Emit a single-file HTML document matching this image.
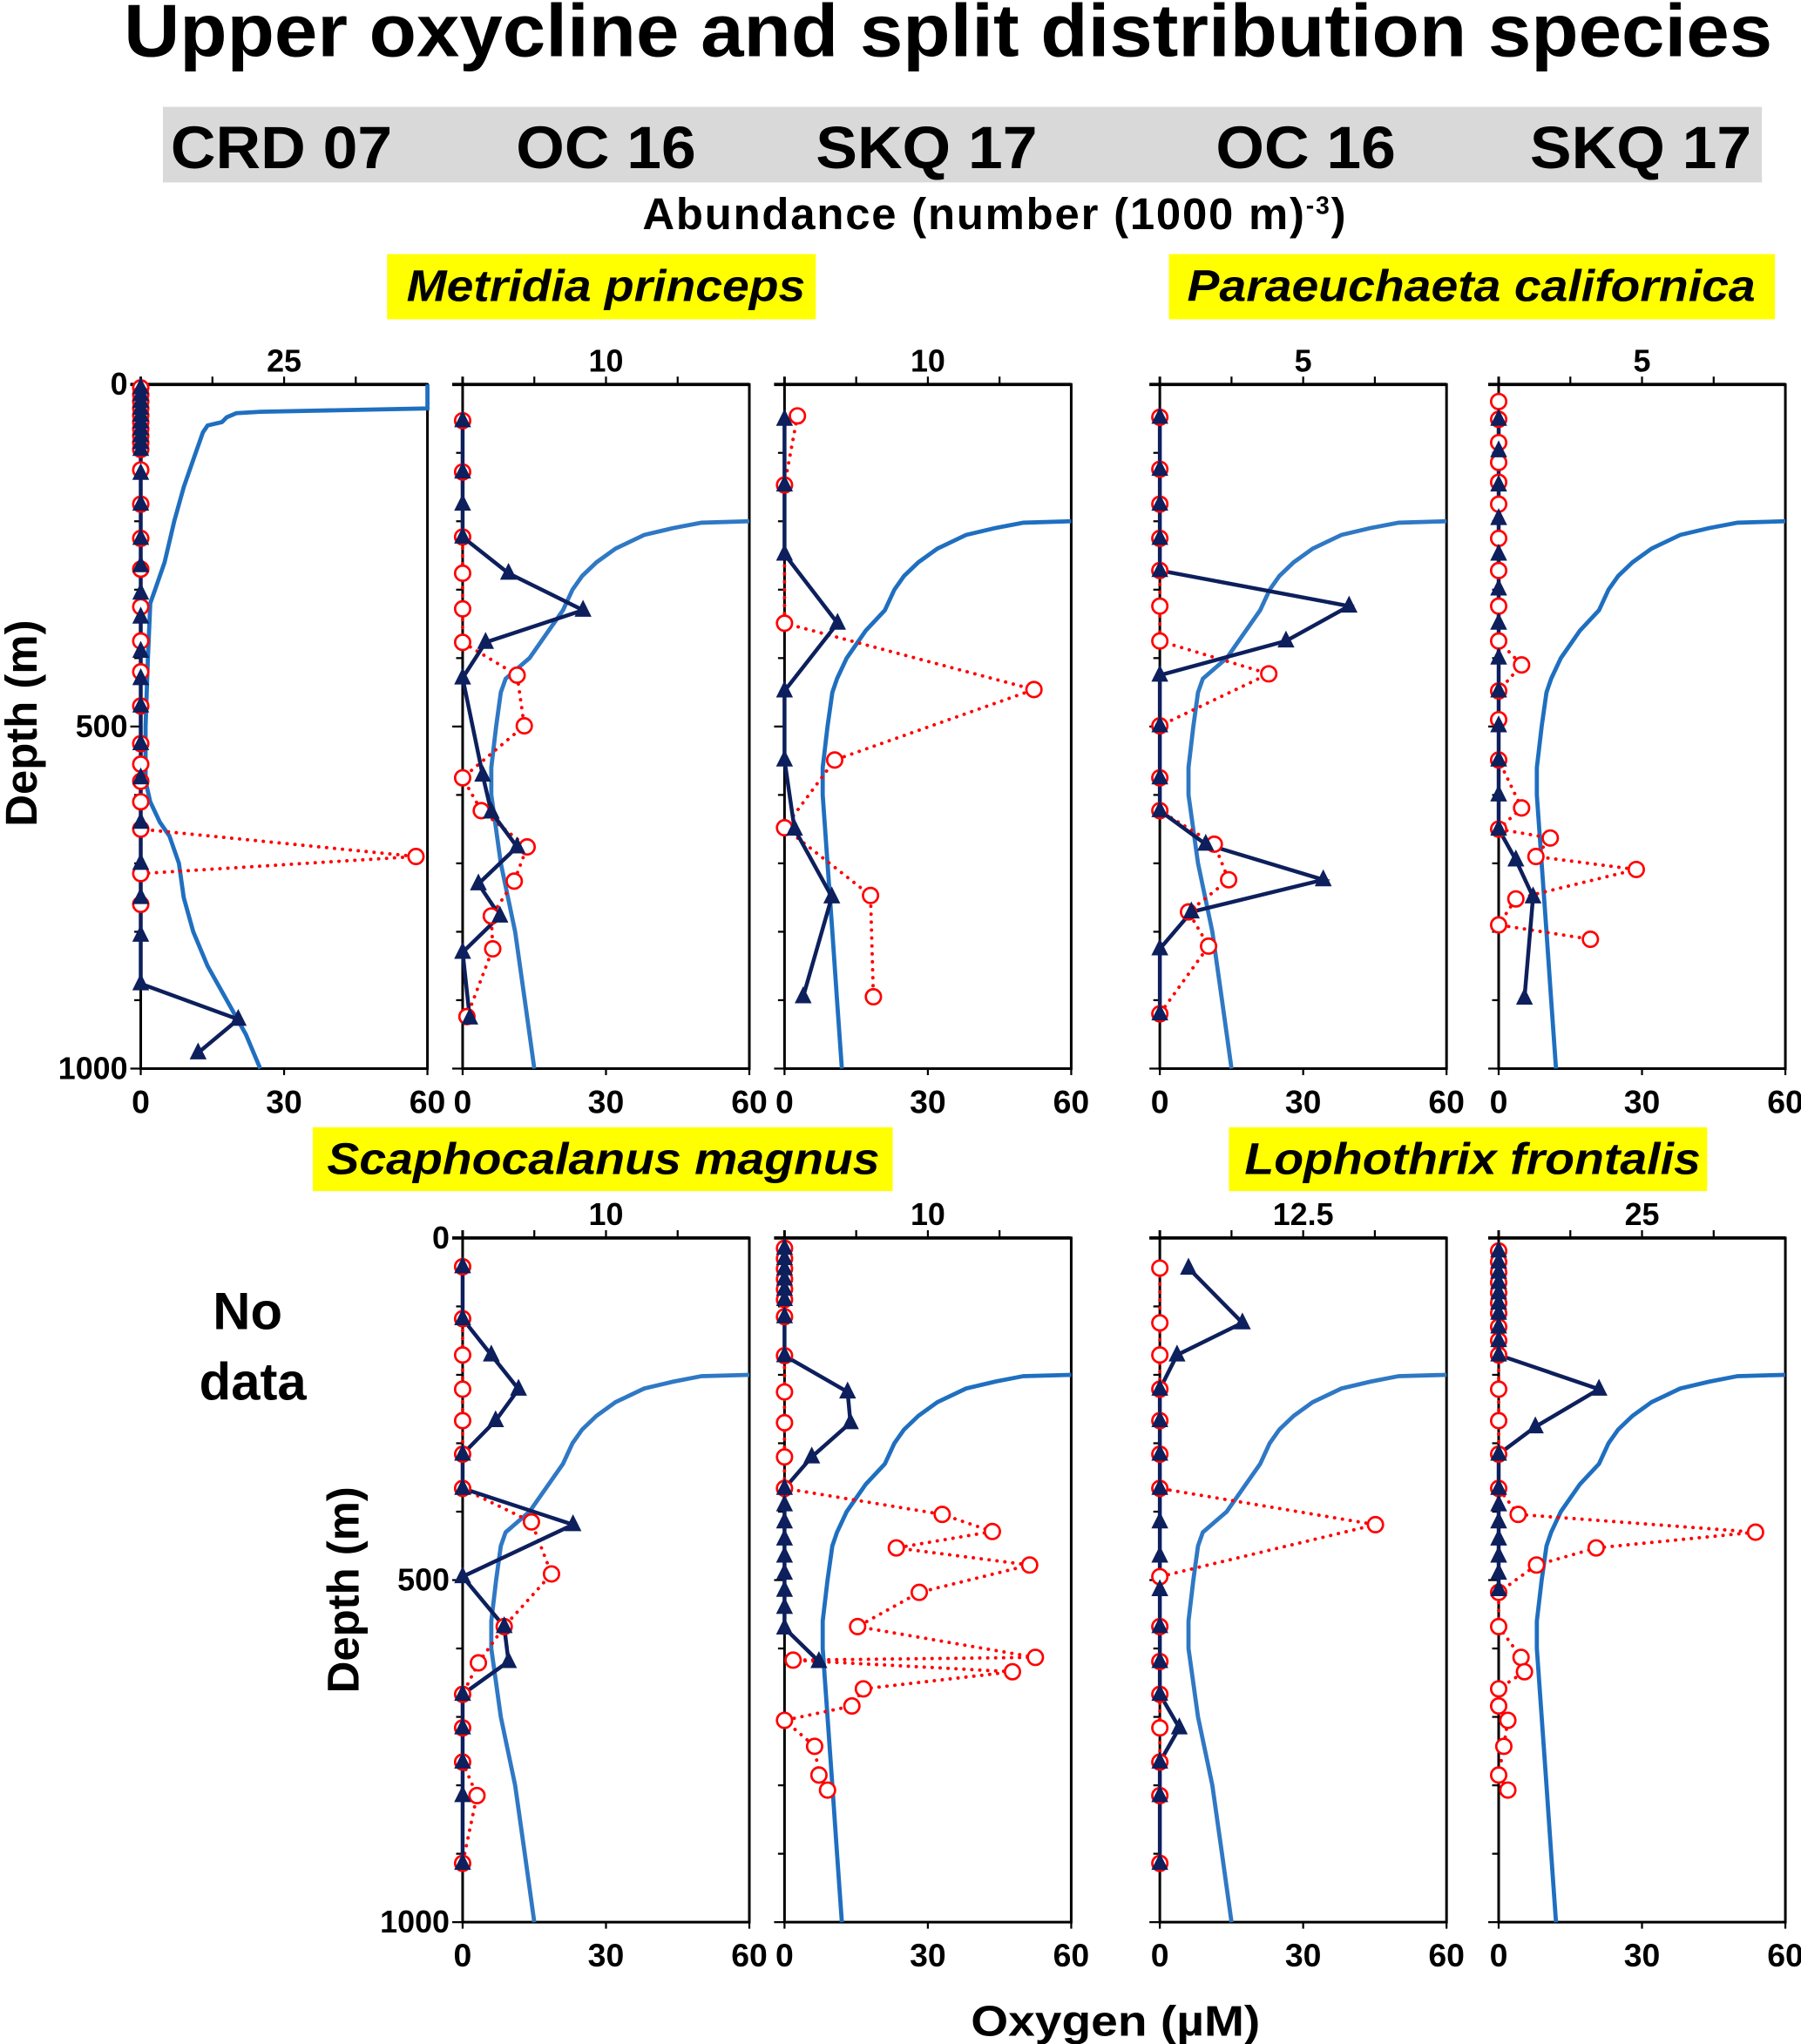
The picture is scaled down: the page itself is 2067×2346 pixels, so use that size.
<!DOCTYPE html>
<html><head><meta charset="utf-8"><style>
html,body{margin:0;padding:0;background:#fff}
svg{display:block}
text{font-family:"Liberation Sans",Arial,sans-serif;font-weight:bold;fill:#000}
</style></head><body>
<svg id="chart" width="2067" height="2346" viewBox="0 0 1382 1568.5" preserveAspectRatio="none" xmlns="http://www.w3.org/2000/svg">
<text x="95" y="43" font-size="57" textLength="1265" lengthAdjust="spacingAndGlyphs">Upper oxycline and split distribution species</text>
<rect x="125" y="82" width="1227" height="58" fill="#d9d9d9"/>
<text x="131" y="129" font-size="46" textLength="170" lengthAdjust="spacingAndGlyphs">CRD 07</text>
<text x="396" y="129" font-size="46" textLength="138" lengthAdjust="spacingAndGlyphs">OC 16</text>
<text x="626" y="129" font-size="46" textLength="170" lengthAdjust="spacingAndGlyphs">SKQ 17</text>
<text x="933" y="129" font-size="46" textLength="138" lengthAdjust="spacingAndGlyphs">OC 16</text>
<text x="1174" y="129" font-size="46" textLength="170" lengthAdjust="spacingAndGlyphs">SKQ 17</text>
<text x="493" y="176" font-size="34" letter-spacing="1.2">Abundance (number (1000 m)<tspan font-size="19" dy="-12">-3</tspan><tspan dy="12">)</tspan></text>
<rect x="297" y="195" width="329" height="50" fill="#ffff00"/>
<text x="312" y="231" font-size="34" font-style="italic" textLength="306" lengthAdjust="spacingAndGlyphs">Metridia princeps</text>
<rect x="897" y="195" width="465" height="50" fill="#ffff00"/>
<text x="911" y="231" font-size="34" font-style="italic" textLength="436" lengthAdjust="spacingAndGlyphs">Paraeuchaeta californica</text>
<rect x="240" y="865" width="445" height="49" fill="#ffff00"/>
<text x="251" y="901" font-size="34" font-style="italic" textLength="424" lengthAdjust="spacingAndGlyphs">Scaphocalanus magnus</text>
<rect x="943" y="865" width="367" height="49" fill="#ffff00"/>
<text x="955" y="901" font-size="34" font-style="italic" textLength="350" lengthAdjust="spacingAndGlyphs">Lophothrix frontalis</text>
<text transform="translate(28,555) rotate(-90)" font-size="34" text-anchor="middle">Depth (m)</text>
<text transform="translate(275,1220) rotate(-90)" font-size="34" text-anchor="middle">Depth (m)</text>
<text x="190" y="1020" font-size="40" text-anchor="middle">No</text>
<text x="194" y="1074" font-size="40" text-anchor="middle">data</text>
<text x="745" y="1562" font-size="33" textLength="222" lengthAdjust="spacingAndGlyphs">Oxygen (µM)</text>
<g id="plots"></g>
</svg>
<script>
// Oxygen profiles: depth (m) and O2 (µM)
const o2DepthA = [0,35,40,42,48,55,60,70,90,110,150,200,260,300,320,400,500,580,610,640,660,700,750,800,850,900,950,1000];
const o2ValA   = [60,60,25,20,18,17,14,13,12,11,9,7,5,3,2,1.5,1,1,2,4,6,8,9,11,14,18,22,25];
const o2DepthB = [200,202,210,220,240,260,280,300,330,360,400,430,450,500,560,600,700,800,900,1000];
const o2ValB   = [60,50,44,38,32,28,25,23,21,18,14,9,8,7,6,6,8,11,13,15];
const o2ValC   = [60,50,44,38,32,28,25,23,21,17,13,11,10,9,8,8,9,10,11,12];

// Triangle series (abundance) and circle series per panel
const t1D=[5,15,25,35,45,55,65,75,85,95,130,175,225,265,305,340,390,430,470,525,575,640,700,750,805,876,928,977];
const t1V=[0,0,0,0,0,0,0,0,0,0,0,0,0,0,0,0,0,0,0,0,0,0,0,0,0,0,17,10];
const c1D=[5,15,25,35,45,55,65,75,85,95,125,175,225,270,325,375,420,470,525,555,580,610,650,690,715,760];
const c1V=[0,0,0,0,0,0,0,0,0,0,0,0,0,0,0,0,0,0,0,0,0,0,0,48,0,0];
const t2D=[53,128,175,223,276,330,377,429,571,625,676,730,777,830,926];
const t2V=[0,0,0,0,3.2,8.4,1.6,0,1.4,2,3.8,1.1,2.6,0,0.5];
const c2D=[53,128,223,276,328,377,425,499,575,623,676,726,777,825,924];
const c2V=[0,0,0,0,0,0,3.8,4.3,0,1.3,4.5,3.6,2,2.1,0.3];
const t3D=[51,147,248,349,448,549,650,749,895];
const t3V=[0,0,0,3.7,0,0,0.7,3.3,1.3];
const c3D=[46,147,349,446,549,648,747,895];
const c3V=[0.9,0,0,17.4,3.5,0,6,6.2];
const t4D=[48,124,175,225,272,324,375,425,499,575,623,672,724,771,825,920];
const t4V=[0,0,0,0,0,6.6,4.4,0,0,0,0,1.6,5.7,1.1,0,0];
const c4D=[48,124,175,225,272,324,375,423,499,575,623,672,724,771,821,920];
const c4V=[0,0,0,0,0,0,0,3.8,0,0,0,1.9,2.4,1,1.7,0];
const t5D=[51,97,147,196,248,299,349,400,448,499,549,600,650,695,749,897];
const t5V=[0,0,0,0,0,0,0,0,0,0,0,0,0,0.6,1.2,0.9];
const c5D=[25,51,85,114,143,175,225,272,324,375,410,448,490,549,619,650,663,690,709,752,790,811];
const c5V=[0,0,0,0,0,0,0,0,0,0,0.8,0,0,0,0.8,0,1.8,1.3,4.8,0.6,0,3.2];
const t6D=[42,118,171,221,267,316,366,419,495,568,619,667,716,766,815,914];
const t6V=[0,0,2,3.9,2.3,0,0,7.7,0,2.9,3.2,0,0,0,0,0];
const c6D=[42,118,171,221,267,316,366,415,491,568,621,667,716,766,815,914];
const c6V=[0,0,0,0,0,0,0,4.8,6.2,2.9,1.1,0,0,0,1,0];
const t7D=[15,30,45,60,75,90,115,172,225,270,320,366,390,415,440,465,490,515,540,570,619];
const t7V=[0,0,0,0,0,0,0,0,4.4,4.6,1.9,0,0,0,0,0,0,0,0,0,2.4];
const c7D=[15,30,45,60,75,90,115,172,225,270,320,366,404,429,453,478,518,568,613,617,634,659,684,705,743,785,807];
const c7V=[0,0,0,0,0,0,0,0,0,0,0,0,11,14.5,7.8,17.1,9.4,5.1,17.5,0.6,15.9,5.5,4.7,0,2.1,2.4,3];
const t8D=[44,124,171,221,267,316,366,415,465,514,568,619,667,716,766,815,914];
const t8V=[2.5,7.2,1.5,0,0,0,0,0,0,0,0,0,0,1.7,0,0,0];
const c8D=[44,124,171,221,267,316,366,419,495,568,619,667,716,766,815,914];
const c8V=[0,0,0,0,0,0,0,18.8,0,0,0,0,0,0,0,0];
const t9D=[19,35,50,65,80,95,110,130,150,171,221,276,316,366,390,415,440,465,490,514];
const t9V=[0,0,0,0,0,0,0,0,0,0,17.5,6.4,0,0,0,0,0,0,0,0];
const c9D=[19,35,50,65,80,95,110,130,150,171,221,267,316,366,404,430,453,478,518,568,613,634,659,684,705,743,785,807];
const c9V=[0,0,0,0,0,0,0,0,0,0,0,0,0,0,3.4,44.8,17,6.6,0,0,3.9,4.5,0,0,1.6,0.9,0,1.6];

const NS="http://www.w3.org/2000/svg";
const g=document.getElementById('plots');
function mk(tag,attrs,parent){const e=document.createElementNS(NS,tag);for(const k in attrs)e.setAttribute(k,attrs[k]);(parent||g).appendChild(e);return e;}

const panels=[
 {x0:108,y0:295,lab:25,o2d:o2DepthA,o2v:o2ValA,td:t1D,tv:t1V,cd:c1D,cv:c1V,depthLabels:true},
 {x0:355,y0:295,lab:10,o2d:o2DepthB,o2v:o2ValB,td:t2D,tv:t2V,cd:c2D,cv:c2V},
 {x0:602,y0:295,lab:10,o2d:o2DepthB,o2v:o2ValC,td:t3D,tv:t3V,cd:c3D,cv:c3V},
 {x0:890,y0:295,lab:5,o2d:o2DepthB,o2v:o2ValB,td:t4D,tv:t4V,cd:c4D,cv:c4V},
 {x0:1150,y0:295,lab:5,o2d:o2DepthB,o2v:o2ValC,td:t5D,tv:t5V,cd:c5D,cv:c5V},
 {x0:355,y0:950,lab:10,o2d:o2DepthB,o2v:o2ValB,td:t6D,tv:t6V,cd:c6D,cv:c6V,depthLabels:true},
 {x0:602,y0:950,lab:10,o2d:o2DepthB,o2v:o2ValC,td:t7D,tv:t7V,cd:c7D,cv:c7V},
 {x0:890,y0:950,lab:12.5,o2d:o2DepthB,o2v:o2ValB,td:t8D,tv:t8V,cd:c8D,cv:c8V},
 {x0:1150,y0:950,lab:25,o2d:o2DepthB,o2v:o2ValC,td:t9D,tv:t9V,cd:c9D,cv:c9V}
];
const W=220,H=525;
panels.forEach((p,i)=>{
 const pg=mk('g',{});
 
 
 const ys=d=>p.y0+d/1000*H;
 const xo=v=>p.x0+v/60*W;
 const xa=v=>p.x0+v/(2*p.lab)*W;
 const fr=mk('path',{d:`M${p.x0},${p.y0-6}V${p.y0+H}H${p.x0+W}V${p.y0}H${p.x0}`,fill:'none',stroke:'#000','stroke-width':2},pg);
 
 
 mk('line',{x1:p.x0-8,x2:p.x0+W,y1:p.y0,y2:p.y0,stroke:'#000','stroke-width':2.5},pg);
 for(let d=0;d<=1000;d+=100){const long=d%500===0;mk('line',{x1:p.x0-(long?8:5),x2:p.x0,y1:ys(d),y2:ys(d),stroke:'#000','stroke-width':1.5},pg);}
 if(p.depthLabels){[0,500,1000].forEach(d=>{const t=mk('text',{x:p.x0-10,y:ys(d)+8,'font-size':24,'text-anchor':'end'},pg);t.textContent=d;
  
  });}
 for(let k=1;k<=3;k++){mk('line',{x1:p.x0+k*W/4,x2:p.x0+k*W/4,y1:p.y0,y2:p.y0-6,stroke:'#000','stroke-width':1.5},pg);}
 const tl=mk('text',{x:xa(p.lab),y:p.y0-10,'font-size':24,'text-anchor':'middle'},pg);tl.textContent=p.lab;
 
 
 [0,30,60].forEach(v=>{mk('line',{x1:xo(v),x2:xo(v),y1:p.y0+H,y2:p.y0+H+5,stroke:'#000','stroke-width':1.5},pg);
  const t=mk('text',{x:xo(v),y:p.y0+H+34,'font-size':25,'text-anchor':'middle'},pg);t.textContent=v;
  
  });
 let pts=p.o2d.map((d,j)=>xo(p.o2v[j]).toFixed(1)+','+ys(d).toFixed(1));
 const ox=mk('polyline',{points:pts.join(' '),fill:'none',stroke:i%2?'#2f78c4':'#1f6fc0','stroke-width':3.2},pg);
 
 
 const cl=mk('polyline',{points:p.cd.map((d,j)=>xa(p.cv[j])+','+ys(d)).join(' '),fill:'none',stroke:'#ff0000','stroke-width':2.6,'stroke-dasharray':'0.1 6','stroke-linecap':'round'},pg);
 
 
 const tln=mk('polyline',{points:p.td.map((d,j)=>xa(p.tv[j])+','+ys(d)).join(' '),fill:'none',stroke:'#0d1f5c','stroke-width':3},pg);
 
 
 p.cd.forEach((d,j)=>{const c=mk('circle',{cx:xa(p.cv[j]),cy:ys(d),r:5.8,fill:'#fff',stroke:'#ff0000','stroke-width':1.8},pg);
  
  });
 p.td.forEach((d,j)=>{const x=xa(p.tv[j]),y=ys(d);const t=mk('polygon',{points:`${x},${y-8} ${x-6.5},${y+5} ${x+6.5},${y+5}`,fill:'#0d1f5c'},pg);
  
  });
});
</script>
</body></html>
